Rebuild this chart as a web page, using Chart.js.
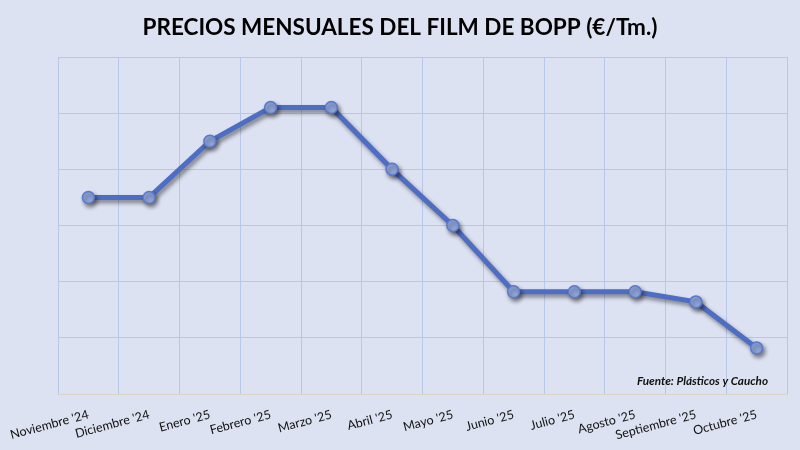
<!DOCTYPE html>
<html>
<head>
<meta charset="utf-8">
<script src="https://cdn.jsdelivr.net/npm/chart.js@4"></script>
<style>
  html, body { margin: 0; padding: 0; background: #dde2f2; }
  #wrap { width: 800px; height: 450px; position: relative; }
</style>
</head>
<body>
<div id="wrap"><canvas id="c" width="800" height="450"></canvas></div>
<script>
const categories = ["Noviembre '24", "Diciembre '24", "Enero '25", "Febrero '25", "Marzo '25", "Abril '25", "Mayo '25", "Junio '25", "Julio '25", "Agosto '25", "Septiembre '25", "Octubre '25"];
const prices = [1675, 1675, 1725, 1755, 1755, 1700, 1650, 1591, 1591, 1591, 1582, 1541];
const yMin = 1500;
const yMax = 1800;
const yStep = 50;
const titleText = "PRECIOS MENSUALES DEL FILM DE BOPP (€/Tm.)";
const sourceText = "Fuente: Plásticos y Caucho";

const bgPlugin = {
  id: 'bg',
  beforeDraw(chart) {
    const ctx = chart.ctx;
    ctx.save();
    ctx.fillStyle = '#dde2f2';
    ctx.fillRect(0, 0, chart.width, chart.height);
    ctx.restore();
  }
};
const shadowPlugin = {
  id: 'shadow',
  beforeDatasetsDraw(chart) {
    const ctx = chart.ctx;
    ctx.save();
    ctx.shadowColor = 'rgba(0,0,0,0.45)';
    ctx.shadowBlur = 4;
    ctx.shadowOffsetX = 2;
    ctx.shadowOffsetY = 3;
  },
  afterDatasetsDraw(chart) {
    chart.ctx.restore();
  }
};
const sourcePlugin = {
  id: 'source',
  afterDraw(chart) {
    const ctx = chart.ctx;
    const a = chart.chartArea;
    ctx.save();
    ctx.font = 'italic bold 11.7px Lato';
    ctx.fillStyle = '#111';
    ctx.textAlign = 'right';
    ctx.textBaseline = 'middle';
    ctx.fillText(sourceText, a.right - 19, a.bottom - 13);
    ctx.restore();
  }
};

new Chart(document.getElementById('c'), {
  type: 'line',
  data: {
    labels: categories,
    datasets: [{
      data: prices,
      borderColor: '#4e6ec4',
      borderWidth: 5,
      pointRadius: 6,
      pointBackgroundColor: '#8fa6dc',
      pointBorderColor: '#5a78cc',
      pointBorderWidth: 1.5,
      tension: 0,
      fill: false
    }]
  },
  options: {
    responsive: false,
    animation: false,
    layout: { padding: { left: 13, right: 13, top: 0, bottom: 0 } },
    plugins: {
      legend: { display: false },
      tooltip: { enabled: false },
      title: {
        display: true,
        text: titleText,
        color: '#000',
        font: { family: 'Lato', size: 22.5, weight: 'bold' },
        padding: { top: 14, bottom: 16 }
      }
    },
    scales: {
      x: {
        offset: true,
        afterFit(scale) {
          scale.height = 56;
          scale.paddingLeft = 0;
          scale.paddingRight = 0;
        },
        grid: { display: true, color: '#b7c7e8', lineWidth: 1, drawTicks: false, offset: true },
        border: { display: true, color: '#d7d4c8' },
        ticks: {
          minRotation: 15,
          maxRotation: 15,
          autoSkip: false,
          padding: 13,
          color: '#111',
          font: { family: 'Lato', size: 12.5 }
        }
      },
      y: {
        min: yMin,
        max: yMax,
        afterFit(scale) { scale.width = 45; },
        grid: { color: '#b7c7e8', lineWidth: 1, drawTicks: false },
        border: { display: false },
        ticks: { display: false, stepSize: yStep }
      }
    }
  },
  plugins: [bgPlugin, shadowPlugin, sourcePlugin]
});
</script>
</body>
</html>
